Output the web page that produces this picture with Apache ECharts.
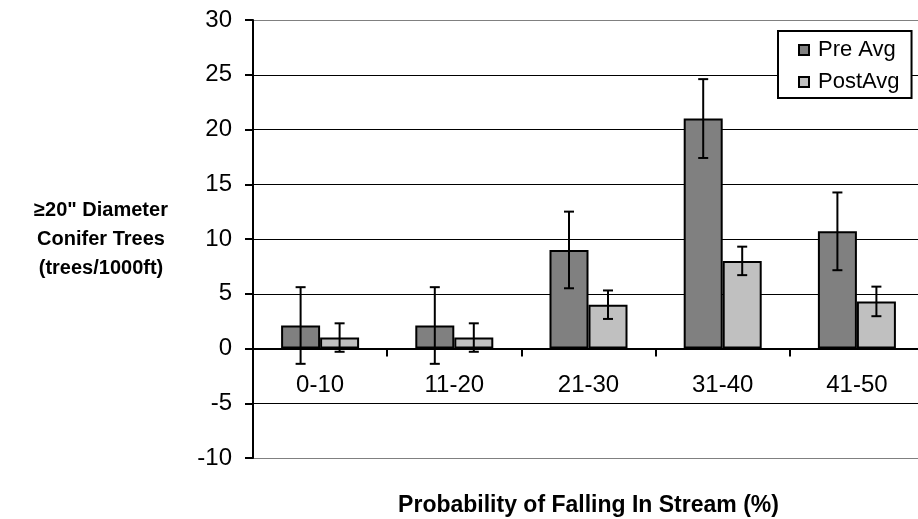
<!DOCTYPE html>
<html>
<head>
<meta charset="utf-8">
<script src="https://cdn.jsdelivr.net/npm/echarts@6/dist/echarts.min.js"></script>
<style>html,body{margin:0;padding:0;background:#fff}#c{width:918px;height:519px}</style>
</head>
<body>
<div id="c"></div>
<script>
const categories = ['0-10', '11-20', '21-30', '31-40', '41-50'];
const preAvg = [2.1, 2.1, 9.0, 21.0, 10.7];
const postAvg = [1.0, 1.0, 4.0, 8.0, 4.3];
const preErr = [3.5, 3.5, 3.5, 3.6, 3.55];
const postErr = [1.3, 1.3, 1.3, 1.3, 1.35];
const yTicks = { min: -10, max: 30, interval: 5 };
const seriesNames = ['Pre Avg', 'PostAvg'];

const FONT = '"Liberation Sans", Arial, sans-serif';
const BAR_W = 39;
const GRID = { left: 253, top: 20, width: 671, height: 438 };
const zeroOffset = -(GRID.height * (0 - yTicks.min) / (yTicks.max - yTicks.min));

function errorSeries(vals, errs, offset) {
  return {
    type: 'custom',
    silent: true,
    z: 10,
    data: vals.map((v, i) => [i, v, errs[i]]),
    renderItem: function (params, api) {
      const i = api.value(0), v = api.value(1), e = api.value(2);
      const hi = api.coord([i, v + e]);
      const lo = api.coord([i, v - e]);
      const x = hi[0] + offset;
      const cap = 5;
      const style = { stroke: '#000', lineWidth: 2 };
      return {
        type: 'group',
        children: [
          { type: 'line', shape: { x1: x, y1: hi[1], x2: x, y2: lo[1] }, style: style },
          { type: 'line', shape: { x1: x - cap, y1: hi[1], x2: x + cap, y2: hi[1] }, style: style },
          { type: 'line', shape: { x1: x - cap, y1: lo[1], x2: x + cap, y2: lo[1] }, style: style }
        ]
      };
    }
  };
}

const chart = echarts.init(document.getElementById('c'), null, { renderer: 'canvas' });
chart.setOption({
  animation: false,
  backgroundColor: '#fff',
  textStyle: { fontFamily: FONT, color: '#000' },
  grid: Object.assign({ containLabel: false, outerBoundsMode: 'none' }, GRID),
  legend: {
    data: seriesNames,
    orient: 'vertical',
    left: 778,
    top: 31,
    padding: [8, 12, 5, 20],
    itemGap: 10,
    itemWidth: 10,
    itemHeight: 10,
    backgroundColor: '#fff',
    borderColor: '#000',
    borderWidth: 2,
    borderRadius: 0,
    icon: 'rect',
    textStyle: { fontFamily: FONT, fontSize: 22, color: '#000', padding: [0, 0, 0, 4] },
    z: 20
  },
  xAxis: {
    type: 'category',
    data: categories,
    boundaryGap: true,
    offset: zeroOffset,
    axisLine: { show: true, onZero: false, lineStyle: { color: '#000', width: 2 } },
    axisTick: { show: true, length: 8, lineStyle: { color: '#000', width: 2 } },
    axisLabel: { fontFamily: FONT, fontSize: 24, color: '#000', margin: 25 },
    splitLine: { show: false },
    name: 'Probability of Falling In Stream (%)',
    nameLocation: 'middle',
    nameGap: 146,
    nameTextStyle: { fontFamily: FONT, fontSize: 23, fontWeight: 'bold', color: '#000' }
  },
  yAxis: {
    type: 'value',
    min: yTicks.min,
    max: yTicks.max,
    interval: yTicks.interval,
    axisLine: { show: true, lineStyle: { color: '#000', width: 2 } },
    axisTick: { show: true, length: 8, lineStyle: { color: '#000', width: 2 } },
    axisLabel: { fontFamily: FONT, fontSize: 24, color: '#000', margin: 21 },
    splitLine: {
      show: true,
      lineStyle: {
        color: ['#808080', '#000', '#000', '#000', '#000', '#000', '#000', '#000', '#808080'],
        width: 1.2
      }
    },
    name: '≥20" Diameter\nConifer Trees\n(trees/1000ft)',
    nameLocation: 'middle',
    nameRotate: 0,
    nameGap: 152,
    nameTextStyle: { fontFamily: FONT, fontSize: 20, fontWeight: 'bold', color: '#000', align: 'center', lineHeight: 29, padding: [6, 0, 0, 0] }
  },
  series: [
    {
      name: seriesNames[0],
      type: 'bar',
      data: preAvg,
      barWidth: BAR_W,
      barGap: '0%',
      itemStyle: { color: '#808080', borderColor: '#000', borderWidth: 2 }
    },
    {
      name: seriesNames[1],
      type: 'bar',
      data: postAvg,
      barWidth: BAR_W,
      barGap: '0%',
      itemStyle: { color: '#c0c0c0', borderColor: '#000', borderWidth: 2 }
    },
    errorSeries(preAvg, preErr, -BAR_W / 2),
    errorSeries(postAvg, postErr, BAR_W / 2)
  ]
});
</script>
</body>
</html>
